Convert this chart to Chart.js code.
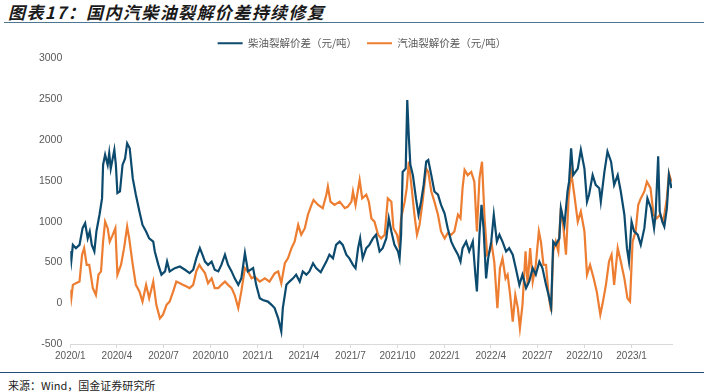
<!DOCTYPE html>
<html>
<head>
<meta charset="utf-8">
<script src="https://cdn.jsdelivr.net/npm/chart.js@4.4.1/dist/chart.umd.min.js"></script>
<style>
  body { margin: 0; width: 704px; height: 392px; background: #fff; position: relative; overflow: hidden; }
  #title { position: absolute; left: 8px; top: -1px; font: italic bold 17px "Noto Sans CJK SC", sans-serif; letter-spacing: 1.4px; color: #1a1a1a; white-space: nowrap; }
  #topline { position: absolute; left: 4px; top: 22px; width: 700px; border-top: 1.5px solid #4e7592; }
  #wrap { position: absolute; left: 0; top: 24px; width: 704px; height: 344px; }
  #bottomline { position: absolute; left: 0; top: 372px; width: 704px; border-top: 1.5px solid #1f4e79; }
  #source { position: absolute; left: 8px; top: 377px; font: 11px "Noto Sans CJK SC", sans-serif; color: #222; white-space: nowrap; }
</style>
</head>
<body>
<div id="title">图表17：国内汽柴油裂解价差持续修复</div>
<div id="topline"></div>
<div id="wrap"><canvas id="chart" width="704" height="344"></canvas></div>
<div id="bottomline"></div>
<div id="source">来源：Wind，国金证券研究所</div>
<script>
// x 轴标签（季度起点）
const tickDates = ['2020-01-01', '2020-04-01', '2020-07-01', '2020-10-01', '2021-01-01', '2021-04-01', '2021-07-01',
    '2021-10-01', '2022-01-01', '2022-04-01', '2022-07-01', '2022-10-01', '2023-01-01'];
const tickLabels = ['2020/1', '2020/4', '2020/7', '2020/10', '2021/1', '2021/4', '2021/7',
    '2021/10', '2022/1', '2022/4', '2022/7', '2022/10', '2023/1'];

// 柴油裂解价差：距 2020-01-01 的天数 / 数值（元/吨）
const dieselDays = [0, 2, 5, 11, 18, 24, 29, 34, 38, 42, 47, 51, 57, 62, 64, 68, 73, 76, 79, 86, 89, 92, 97, 102, 107, 111, 116, 122, 128, 135,
    141, 148, 154, 162, 165, 172, 178, 185, 189, 194, 204, 214, 224, 233, 240, 246, 253, 258, 263, 269, 276, 282, 289, 295, 302, 308, 315, 321,
    328, 334, 341, 347, 357, 363, 370, 376, 386, 393, 399, 406, 412, 415, 422, 428, 435, 441, 448, 454, 461, 467, 474, 480, 489, 500, 506, 513,
    519, 526, 532, 539, 545, 552, 557, 562, 566, 571, 578, 584, 591, 597, 604, 610, 617, 622, 627, 633, 640, 643, 646, 649, 655, 658, 661, 664,
    669, 675, 680, 685, 690, 695, 699, 705, 711, 718, 724, 731, 737, 744, 750, 757, 762, 766, 773, 779, 786, 791, 794, 799, 803, 807, 812, 816,
    822, 827, 833, 838, 844, 851, 857, 864, 870, 877, 883, 890, 896, 903, 909, 916, 922, 929, 934, 939, 943, 948, 955, 958, 965, 971, 974, 978,
    982, 991, 997, 1004, 1009, 1013, 1020, 1026, 1033, 1036, 1043, 1049, 1056, 1062, 1069, 1075, 1082, 1087, 1091, 1096, 1101, 1108, 1114,
    1121, 1127, 1134, 1140, 1143, 1148, 1151, 1156, 1160, 1165, 1169, 1174];
const dieselValues = [640, 520, 715, 675, 715, 920, 980, 795, 880, 715, 635, 880, 1085, 1285, 1695, 1820, 1695, 1840, 1650, 1880, 1695, 1350,
    1370, 1695, 1775, 1960, 1900, 1530, 1330, 1125, 960, 880, 795, 755, 635, 470, 350, 390, 510, 390, 430, 450, 410, 370, 410, 550, 675, 595,
    510, 470, 510, 410, 390, 470, 595, 470, 390, 305, 225, 305, 615, 390, 430, 225, 60, 40, 20, -20, -60, -185, -345, -60, 225, 265, 305, 350,
    265, 390, 350, 390, 490, 430, 380, 510, 595, 550, 715, 755, 715, 595, 550, 470, 430, 675, 795, 550, 675, 715, 795, 840, 635, 675, 795, 1040,
    880, 715, 635, 550, 840, 1610, 1650, 2490, 2050, 1700, 1570, 1285, 1085, 1245, 1450, 1735, 1755, 1570, 1370, 1330, 1205, 1100, 920, 755,
    675, 595, 510, 675, 755, 635, 755, 350, 145, 840, 1205, 920, 305, 550, 755, 1085, 755, 840, 755, 635, 675, 595, 430, 225, 350, 185, 265,
    430, 350, 510, 430, 225, 100, -50, 755, 715, 795, 1165, 960, 1370, 1490, 1900, 1570, 1650, 1880, 1650, 1245, 1330, 1570, 1450, 1410, 1245,
    1610, 1860, 1735, 1450, 1570, 1370, 1085, 675, 510, 1000, 880, 840, 715, 920, 1285, 1165, 920, 1085, 1800, 1125, 1000, 940, 1165, 1570, 1410];

// 汽油裂解价差：距 2020-01-01 的天数 / 数值（元/吨）
const gasolineDays = [0, 2, 5, 11, 18, 23, 27, 32, 37, 44, 50, 55, 60, 64, 68, 73, 77, 83, 88, 92, 99, 105, 111, 115, 122, 128, 135, 141, 148,
    154, 162, 168, 175, 181, 188, 194, 201, 207, 214, 220, 227, 233, 240, 246, 252, 256, 263, 269, 276, 282, 289, 295, 302, 308, 315, 321, 328,
    334, 341, 347, 354, 360, 370, 380, 389, 399, 406, 412, 419, 425, 432, 438, 445, 451, 458, 464, 471, 475, 484, 493, 500, 503, 508, 516, 526,
    536, 542, 549, 552, 557, 565, 570, 578, 583, 588, 594, 601, 607, 614, 620, 627, 631, 638, 642, 646, 653, 657, 661, 666, 672, 677, 682, 688,
    695, 699, 705, 711, 718, 724, 731, 737, 744, 750, 757, 762, 766, 770, 776, 783, 789, 794, 799, 804, 809, 814, 818, 823, 828, 834, 839, 844,
    850, 854, 859, 864, 869, 874, 878, 883, 889, 893, 898, 903, 909, 915, 919, 924, 929, 934, 939, 943, 948, 953, 958, 963, 968, 973, 978, 984,
    991, 997, 1004, 1009, 1015, 1022, 1028, 1035, 1039, 1046, 1052, 1057, 1062, 1069, 1075, 1082, 1088, 1093, 1098, 1104, 1109, 1114, 1121,
    1126, 1133, 1139, 1145, 1152, 1158, 1165, 1169, 1174];
const gasolineValues = [165, 60, 225, 245, 265, 595, 675, 470, 470, 185, 100, 350, 390, 755, 1000, 920, 755, 840, 920, 350, 470, 675, 940, 795,
    470, 225, 145, 20, 225, 60, 265, -20, -185, -140, -20, 20, 145, 265, 245, 225, 205, 185, 225, 390, 470, 430, 370, 245, 305, 185, 185, 225,
    265, 225, 185, 100, -60, 145, 430, 390, 305, 325, 265, 305, 265, 365, 390, 245, 490, 550, 675, 755, 960, 840, 920, 1085, 1205, 1265, 1205,
    1165, 1330, 1430, 1245, 1205, 1245, 1165, 1185, 1245, 1370, 1205, 1510, 1285, 1330, 1245, 1040, 1000, 840, 795, 840, 1285, 1245, 920, 840,
    715, 1040, 1245, 1410, 1735, 1450, 1085, 840, 960, 1245, 1650, 1610, 1370, 1245, 1085, 880, 795, 860, 840, 880, 1085, 1040, 1410, 1635,
    1570, 1610, 1490, 880, 1530, 1735, 1040, 595, 620, 720, 500, -60, 430, 550, 305, 350, 100, -225, 100, -60, -305, -20, 635, 225, 675, 265,
    470, 880, 755, 470, 470, 100, -100, 635, 755, 635, 1165, 920, 595, 1285, 1610, 1340, 1000, 1125, 880, 350, 470, 305, 145, -140, -20, 225,
    510, 595, 225, 675, 510, 305, 60, 20, 755, 880, 1205, 1285, 1370, 1490, 1410, 1085, 1040, 1085, 1000, 1285, 1590, 1490];

const DAY0 = Date.UTC(2020, 0, 1);
const tickDays = tickDates.map(d => Math.round((Date.parse(d) - DAY0) / 86400000));

const toPoints = (days, values) => days.map((d, i) => ({ x: d, y: values[i] }));

const labelColor = '#595959';

// 图例整体右移，对齐原图
const legendShift = {
    id: 'legendShift',
    afterLayout(chart) {
        chart.legend.left += 26;
        chart.legend.right += 26;
    }
};

new Chart(document.getElementById('chart').getContext('2d'), {
    type: 'line',
    data: {
        datasets: [{
            label: '柴油裂解价差（元/吨）',
            data: toPoints(dieselDays, dieselValues),
            borderColor: '#0c4a6e',
            backgroundColor: '#0c4a6e',
            borderWidth: 2.2,
            pointRadius: 0,
            tension: 0
        }, {
            label: '汽油裂解价差（元/吨）',
            data: toPoints(gasolineDays, gasolineValues),
            borderColor: '#ed7d31',
            backgroundColor: '#ed7d31',
            borderWidth: 2.2,
            pointRadius: 0,
            tension: 0
        }]
    },
    plugins: [legendShift],
    options: {
        responsive: false,
        animation: false,
        layout: { padding: { left: 0, right: 32, top: 4, bottom: 4 } },
        scales: {
            x: {
                type: 'linear',
                min: 0,
                max: 1175,
                afterBuildTicks: scale => { scale.ticks = tickDays.map(v => ({ value: v })); },
                grid: { drawOnChartArea: false, drawTicks: true, tickLength: 4, color: '#d9d9d9' },
                border: { color: '#d9d9d9' },
                ticks: {
                    autoSkip: false,
                    maxRotation: 0,
                    padding: 2,
                    color: labelColor,
                    font: { family: 'Liberation Sans', size: 10 },
                    callback: (value, index) => tickLabels[index]
                }
            },
            y: {
                min: -500,
                max: 3000,
                afterFit: scale => { scale.width = 70.3; },
                grid: { display: false, drawTicks: false },
                border: { display: false },
                ticks: {
                    stepSize: 500,
                    padding: 8,
                    color: labelColor,
                    font: { family: 'Liberation Sans', size: 10.5 },
                    callback: value => String(value)
                }
            }
        },
        plugins: {
            legend: {
                position: 'top',
                labels: {
                    usePointStyle: true,
                    pointStyle: 'line',
                    pointStyleWidth: 25,
                    color: labelColor,
                    padding: 10,
                    font: { family: 'Noto Sans CJK SC', size: 10.5 }
                }
            },
            tooltip: { enabled: false }
        }
    }
});
</script>
</body>
</html>
